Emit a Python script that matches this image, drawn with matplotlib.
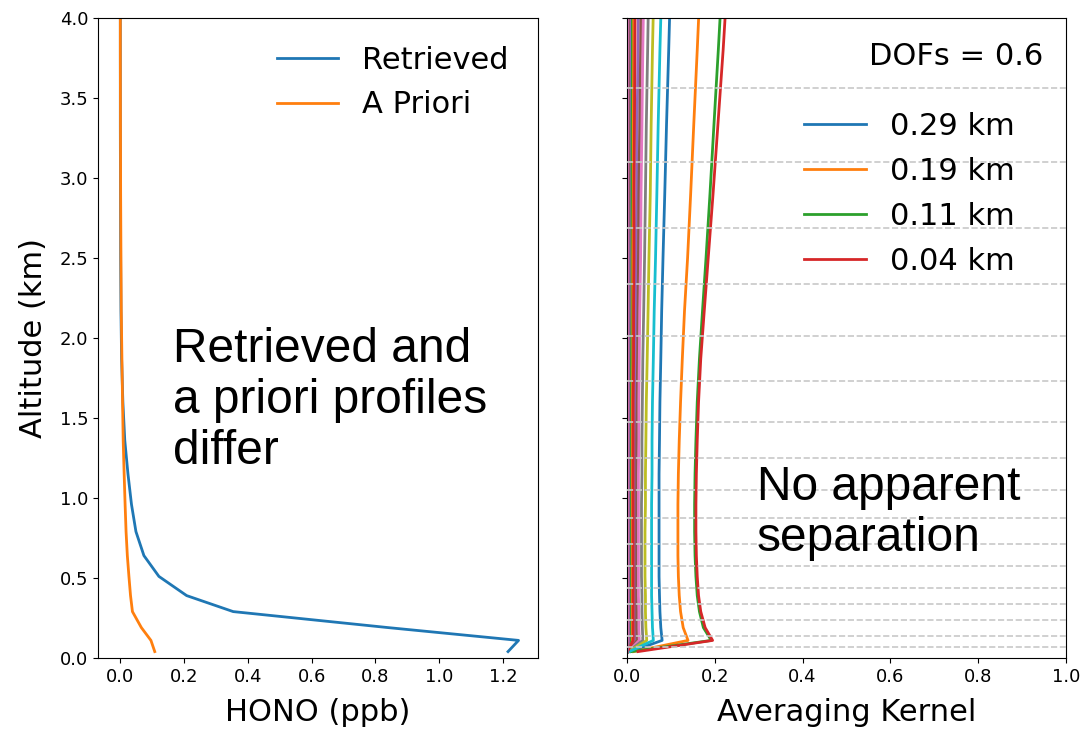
import matplotlib
matplotlib.use("Agg")
import matplotlib.pyplot as plt

# ---------------- data ----------------
altitude_km = [0.04, 0.11, 0.19, 0.29, 0.39, 0.51, 0.64, 0.79, 0.96, 1.15,
               1.36, 1.60, 1.87, 2.17, 2.50, 2.90, 3.33, 3.80, 4.30]

hono_retrieved = [1.216, 1.249, 0.84, 0.354, 0.208, 0.121, 0.074, 0.049, 0.035, 0.024,
                  0.014, 0.008, 0.004, 0.002, 0.001, 0.0005, 0.0, 0.0, 0.0]
hono_apriori = [0.108, 0.096, 0.066, 0.038, 0.032, 0.027, 0.022, 0.018, 0.015, 0.012,
                0.009, 0.007, 0.005, 0.003, 0.002, 0.001, 0.0005, 0.0, 0.0]

# averaging kernel rows (plot order follows the default colour cycle)
ak_029 = [0.008, 0.080, 0.077, 0.075, 0.074, 0.073, 0.073, 0.073, 0.073, 0.073,
          0.074, 0.075, 0.077, 0.079, 0.082, 0.086, 0.090, 0.095, 0.100]
ak_019 = [0.015, 0.139, 0.128, 0.122, 0.119, 0.117, 0.116, 0.116, 0.116, 0.117,
          0.119, 0.122, 0.126, 0.131, 0.138, 0.145, 0.152, 0.160, 0.168]
ak_011 = [0.010, 0.192, 0.174, 0.165, 0.160, 0.157, 0.155, 0.154, 0.154, 0.155,
          0.157, 0.160, 0.165, 0.172, 0.180, 0.189, 0.198, 0.208, 0.218]
ak_004 = [0.025, 0.195, 0.178, 0.168, 0.163, 0.160, 0.158, 0.157, 0.157, 0.158,
          0.160, 0.163, 0.168, 0.176, 0.185, 0.196, 0.207, 0.219, 0.230]
ak_row5 = [0.002, 0.018, 0.018, 0.018, 0.018, 0.018, 0.018, 0.018, 0.018, 0.018,
           0.018, 0.019, 0.019, 0.020, 0.021, 0.022, 0.023, 0.025, 0.027]
ak_row6 = [0.002, 0.023, 0.022, 0.022, 0.022, 0.022, 0.022, 0.022, 0.022, 0.022,
           0.022, 0.023, 0.024, 0.025, 0.026, 0.027, 0.029, 0.031, 0.033]
ak_row7 = [0.003, 0.028, 0.027, 0.027, 0.026, 0.026, 0.026, 0.026, 0.026, 0.026,
           0.027, 0.027, 0.028, 0.029, 0.031, 0.032, 0.034, 0.036, 0.039]
ak_row8 = [0.003, 0.036, 0.035, 0.034, 0.034, 0.033, 0.033, 0.033, 0.033, 0.034,
           0.034, 0.035, 0.036, 0.038, 0.040, 0.042, 0.044, 0.047, 0.050]
ak_row9 = [0.004, 0.045, 0.043, 0.042, 0.042, 0.041, 0.041, 0.041, 0.042, 0.042,
           0.043, 0.044, 0.046, 0.048, 0.050, 0.053, 0.055, 0.058, 0.062]
ak_row10 = [0.005, 0.060, 0.058, 0.057, 0.056, 0.056, 0.056, 0.056, 0.056, 0.057,
            0.057, 0.058, 0.060, 0.062, 0.065, 0.068, 0.071, 0.075, 0.080]
ak_row11 = [0.001, 0.012, 0.012, 0.012, 0.012, 0.012, 0.012, 0.012, 0.012, 0.012,
            0.012, 0.013, 0.013, 0.014, 0.014, 0.015, 0.016, 0.017, 0.018]
ak_row12 = [0.001, 0.009, 0.009, 0.009, 0.009, 0.009, 0.009, 0.009, 0.009, 0.009,
            0.009, 0.010, 0.010, 0.010, 0.011, 0.011, 0.012, 0.013, 0.014]
ak_row13 = [0.001, 0.006, 0.006, 0.006, 0.006, 0.006, 0.006, 0.006, 0.006, 0.006,
            0.006, 0.006, 0.007, 0.007, 0.007, 0.008, 0.008, 0.009, 0.009]
ak_row14 = [0.001, 0.014, 0.014, 0.014, 0.014, 0.014, 0.014, 0.014, 0.014, 0.014,
            0.014, 0.014, 0.015, 0.015, 0.016, 0.016, 0.017, 0.018, 0.019]
ak_row15 = [0.000, 0.004, 0.004, 0.004, 0.004, 0.004, 0.004, 0.004, 0.004, 0.004,
            0.004, 0.004, 0.004, 0.005, 0.005, 0.005, 0.005, 0.006, 0.006]
ak_row16 = [0.000, 0.002, 0.002, 0.002, 0.002, 0.002, 0.002, 0.002, 0.002, 0.002,
            0.002, 0.002, 0.002, 0.002, 0.002, 0.003, 0.003, 0.003, 0.003]
ak_row17 = [0.000, 0.001, 0.001, 0.001, 0.001, 0.001, 0.001, 0.001, 0.001, 0.001,
            0.001, 0.001, 0.001, 0.001, 0.001, 0.001, 0.001, 0.001, 0.001]

kernel_rows = [ak_029, ak_019, ak_011, ak_004, ak_row5, ak_row6, ak_row7, ak_row8,
               ak_row9, ak_row10, ak_row11, ak_row12, ak_row13, ak_row14, ak_row15,
               ak_row16, ak_row17]
kernel_labels = ["0.29 km", "0.19 km", "0.11 km", "0.04 km"]

layer_bounds_km = [0.07, 0.14, 0.24, 0.34, 0.44, 0.575, 0.71, 0.875, 1.05, 1.25,
                   1.475, 1.73, 2.01, 2.34, 2.69, 3.10, 3.56]

dofs_text = "DOFs = 0.6"

# ---------------- figure ----------------
W, H = 1082, 730
fig = plt.figure(figsize=(W / 100, H / 100), dpi=100)
fig.patch.set_facecolor("white")

def px_axes(x0, y0, x1, y1):
    return fig.add_axes([x0 / W, 1 - y1 / H, (x1 - x0) / W, (y1 - y0) / H])

ax1 = px_axes(98, 18, 538, 658)
ax2 = px_axes(627, 18, 1066, 658)

tick_fs = 13
label_fs = 22

# left panel
ax1.plot(hono_retrieved, altitude_km, color="C0", lw=2, label="Retrieved")
ax1.plot(hono_apriori, altitude_km, color="C1", lw=2, label="A Priori")
ax1.set_xlim(-0.07, 1.31)
ax1.set_ylim(0, 4)
ax1.set_xticks([0.0, 0.2, 0.4, 0.6, 0.8, 1.0, 1.2])
ax1.set_yticks([0.0, 0.5, 1.0, 1.5, 2.0, 2.5, 3.0, 3.5, 4.0])
ax1.tick_params(labelsize=tick_fs)
ax1.set_xlabel("HONO (ppb)", fontsize=label_fs, labelpad=9)
ax1.set_ylabel("Altitude (km)", fontsize=label_fs, labelpad=8)
ax1.legend(loc="upper right", bbox_to_anchor=(0.961, 0.976), borderaxespad=0,
           frameon=False, fontsize=label_fs, labelspacing=0.52)
ax1.text(0.17, 0.403, "Retrieved and\na priori profiles\ndiffer",
         transform=ax1.transAxes, ha="left", va="center",
         fontsize=34.5, family="Liberation Sans", linespacing=1.17)

# right panel
handles = []
for i, row in enumerate(kernel_rows):
    ln, = ax2.plot(row, altitude_km, color=f"C{i % 10}", lw=2)
    handles.append(ln)
for b in layer_bounds_km:
    ax2.axhline(b, color="#c8c8c8", ls="--", lw=1.2, zorder=3)
ax2.set_xlim(0, 1)
ax2.set_ylim(0, 4)
ax2.set_xticks([0.0, 0.2, 0.4, 0.6, 0.8, 1.0])
ax2.set_yticks([0.0, 0.5, 1.0, 1.5, 2.0, 2.5, 3.0, 3.5, 4.0])
ax2.set_yticklabels([])
ax2.tick_params(labelsize=tick_fs)
ax2.set_xlabel("Averaging Kernel", fontsize=label_fs, labelpad=9)
ax2.legend(handles[:4], kernel_labels, loc="upper right",
           bbox_to_anchor=(0.911, 0.872), borderaxespad=0,
           frameon=False, fontsize=label_fs, labelspacing=0.52)
ax2.text(0.948, 0.940, dofs_text, transform=ax2.transAxes, ha="right",
         va="center", fontsize=label_fs)
ax2.text(0.296, 0.2266, "No apparent\nseparation", transform=ax2.transAxes,
         ha="left", va="center", fontsize=34.5, family="Liberation Sans",
         linespacing=1.17)

fig.savefig("out.png", dpi=100)
